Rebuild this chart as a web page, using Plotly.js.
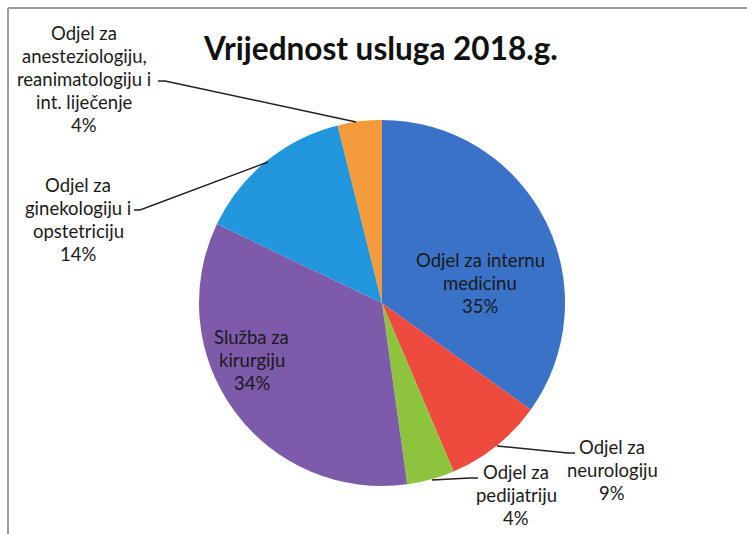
<!DOCTYPE html>
<html>
<head>
<meta charset="utf-8">
<script src="https://cdn.plot.ly/plotly-3.0.1.min.js"></script>
<style>html,body{margin:0;padding:0;background:#fff;}#chart{width:747px;height:534px;}</style>
</head>
<body>
<div id="chart"></div>
<script>
// Data
var categories = [
  "Odjel za internu medicinu",
  "Odjel za neurologiju",
  "Odjel za pedijatriju",
  "Služba za kirurgiju",
  "Odjel za ginekologiju i opstetriciju",
  "Odjel za anesteziologiju, reanimatologiju i int. liječenje"
];
var wrappedLabels = [
  ["Odjel za internu", "medicinu"],
  ["Odjel za", "neurologiju"],
  ["Odjel za", "pedijatriju"],
  ["Služba za", "kirurgiju"],
  ["Odjel za", "ginekologiju i", "opstetriciju"],
  ["Odjel za", "anesteziologiju,", "reanimatologiju i", "int. liječenje"]
];
var values = [34.9, 8.7, 4.2, 34.3, 14.0, 3.9];
var colors = ["#3a72c8", "#ee4b3e", "#8dc43c", "#7e5aaa", "#2196dc", "#f39a3a"];
var titleText = "Vrijednost usluga 2018.g.";

var W = 747, H = 534;
function px(x) { return x / W; }
function py(y) { return 1 - y / H; }

var total = values.reduce(function (a, b) { return a + b; }, 0);
var pct = values.map(function (v) { return Math.round(v / total * 100) + "%"; });

// label placement: centre x and first-line y (pixels)
var labelPos = [
  [480, 260],
  [612, 447],
  [516, 472],
  [252, 337],
  [78, 185],
  [84, 33]
];
var lineGap = 23;

var font = { family: "Lato, 'Open Sans', sans-serif", size: 18.5, color: "#1a1a1a" };
var annotations = [];
categories.forEach(function (c, i) {
  var lines = wrappedLabels[i].concat([pct[i]]);
  lines.forEach(function (t, k) {
    annotations.push({
      x: px(labelPos[i][0]), y: py(labelPos[i][1] + k * lineGap),
      xref: "paper", yref: "paper",
      xanchor: "center", yanchor: "middle",
      text: t, showarrow: false, font: font
    });
  });
});

function path(pts) {
  return "M" + pts.map(function (p) { return px(p[0]) + "," + py(p[1]); }).join(" L");
}
var lineStyle = { color: "#222", width: 1.5 };
var shapes = [
  { type: "path", xref: "paper", yref: "paper", path: path([[158, 81], [165, 81], [356, 122]]), line: lineStyle },
  { type: "path", xref: "paper", yref: "paper", path: path([[134, 210], [140, 210], [268, 162]]), line: lineStyle },
  { type: "path", xref: "paper", yref: "paper", path: path([[497, 446], [568, 453], [575, 453]]), line: lineStyle },
  { type: "path", xref: "paper", yref: "paper", path: path([[432, 480], [470, 478], [478, 478]]), line: lineStyle },
  { type: "line", xref: "paper", yref: "paper", x0: px(8), y0: py(8), x1: 1, y1: py(8), line: { color: "#9a9a9a", width: 2 } },
  { type: "line", xref: "paper", yref: "paper", x0: px(8), y0: py(8), x1: px(8), y1: 0, line: { color: "#9a9a9a", width: 2 } }
];
annotations.push({
  x: px(380), y: py(48), xref: "paper", yref: "paper",
  xanchor: "center", yanchor: "middle", showarrow: false,
  text: "<b>" + titleText + "</b>",
  font: { family: "Lato, 'Open Sans', sans-serif", size: 31.5, color: "#111" }
});

var data = [{
  type: "pie",
  labels: categories,
  values: values,
  sort: false,
  direction: "clockwise",
  rotation: 0,
  marker: { colors: colors, line: { width: 0 } },
  textinfo: "none",
  hoverinfo: "none",
  domain: { x: [px(199), px(565)], y: [py(486), py(120)] }
}];

var layout = {
  width: W, height: H,
  margin: { l: 0, r: 0, t: 0, b: 0 },
  paper_bgcolor: "#ffffff",
  showlegend: false,
  annotations: annotations,
  shapes: shapes
};

Plotly.newPlot("chart", data, layout, { displayModeBar: false, staticPlot: true });
</script>
</body>
</html>
